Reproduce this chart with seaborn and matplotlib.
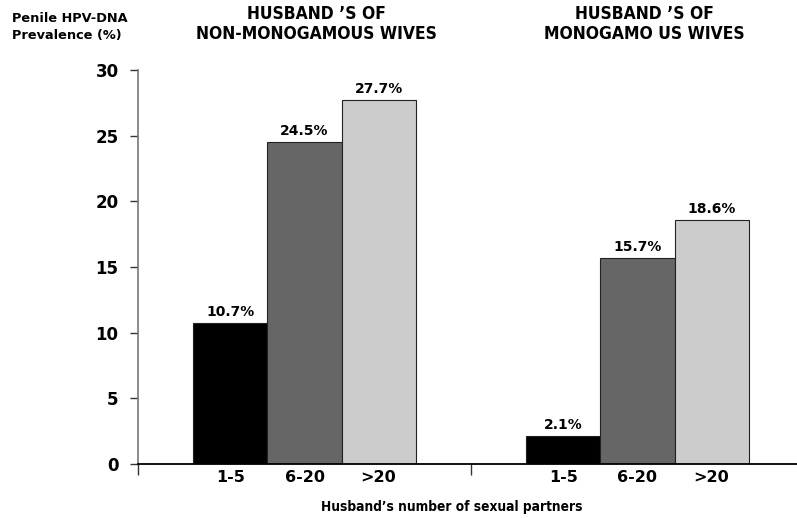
import numpy as np
import pandas as pd
import matplotlib
matplotlib.use("Agg")
import matplotlib.pyplot as plt
import seaborn as sns

# values
groups = ["non-monogamous", "monogamous"]
partners = ["1-5", "6-20", ">20"]
prev_nonmono = [10.7, 24.5, 27.7]
prev_mono = [2.1, 15.7, 18.6]
titles = ["HUSBAND \u2019S OF\nNON-MONOGAMOUS WIVES", "HUSBAND \u2019S OF\nMONOGAMO US WIVES"]
bar_colors = ["#000000", "#666666", "#cccccc"]

df = pd.DataFrame({
    "group": np.repeat(groups, len(partners)),
    "partners": partners * len(groups),
    "prev": prev_nonmono + prev_mono,
})

sns.set_style("white")
plt.rcParams["font.family"] = ["DejaVu Sans"]
plt.rcParams["text.color"] = "black"
plt.rcParams["xtick.color"] = "black"
plt.rcParams["ytick.color"] = "black"

fig = plt.figure(figsize=(7.97, 5.18), dpi=100)
ax = fig.add_axes([138 / 797, 54 / 518, 666 / 797, 394 / 518])

sns.barplot(data=df, x="group", y="prev", hue="partners", hue_order=partners,
            order=groups, palette=bar_colors, saturation=1, width=0.667,
            edgecolor="#222222", linewidth=0.8, legend=False, ax=ax)

ax.set_xlim(-0.5, 1.5)
ax.set_ylim(0, 30)
ax.set_xlabel("")
ax.set_ylabel("")

for cont in ax.containers:
    ax.bar_label(cont, fmt="%.1f%%", padding=3, fontsize=10, fontweight="bold",
                 color="black")

# category labels under each bar
centers, labels = [], []
for i, cont in enumerate(ax.containers):
    for bar in cont:
        centers.append(bar.get_x() + bar.get_width() / 2)
        labels.append(partners[i])
ax.set_xticks([-0.5, 0.5, 1.5])
ax.set_xticklabels(["", "", ""])
ax.set_xticks(centers, minor=True)
ax.set_xticklabels(labels, minor=True, fontsize=11.5, fontweight="bold")
ax.tick_params(axis="x", which="major", bottom=True, direction="out", length=8,
               width=1, color="#333333")
ax.tick_params(axis="x", which="minor", bottom=True, length=0, pad=4)

ax.set_yticks(range(0, 31, 5))
ax.set_yticklabels([str(v) for v in range(0, 31, 5)], fontsize=12, fontweight="bold")
ax.tick_params(axis="y", direction="out", length=6, width=1, color="#333333",
               pad=8, left=True)

sns.despine(ax=ax, top=True, right=True)
ax.spines["left"].set_color("#777777")
ax.spines["left"].set_linewidth(1.2)
ax.spines["bottom"].set_color("#000000")
ax.spines["bottom"].set_linewidth(1.3)

fig.text(452 / 797, 1 - 507 / 518, "Husband\u2019s number of sexual partners",
         ha="center", va="center", fontsize=9.8, fontweight="bold",
         fontstretch="condensed")
fig.text(12 / 797, 1 - 27 / 518, "Penile HPV-DNA\nPrevalence (%)",
         ha="left", va="center", fontsize=9.3, fontweight="bold", linespacing=1.35)
fig.text(316 / 797, 1 - 24 / 518, titles[0], ha="center", va="center",
         fontsize=12.5, fontweight="bold", fontstretch="condensed", linespacing=1.1)
fig.text(644 / 797, 1 - 24 / 518, titles[1], ha="center", va="center",
         fontsize=12.5, fontweight="bold", fontstretch="condensed", linespacing=1.1)

fig.savefig("out.png", dpi=100)
